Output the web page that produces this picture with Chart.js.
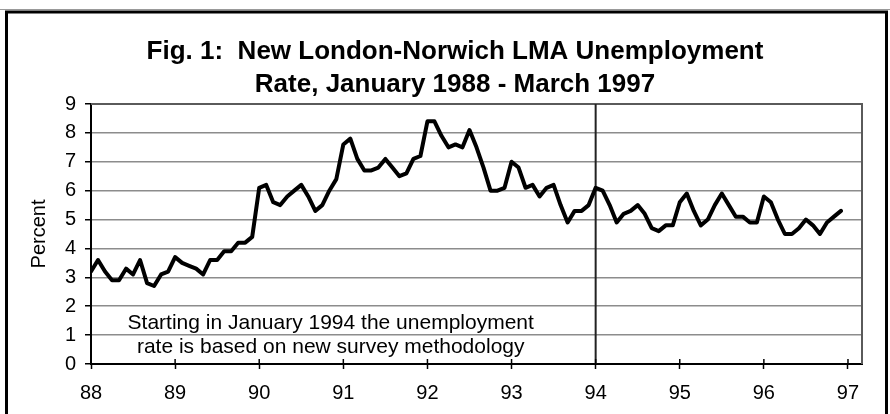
<!DOCTYPE html>
<html>
<head>
<meta charset="utf-8">
<script src="https://cdn.jsdelivr.net/npm/chart.js@4/dist/chart.umd.min.js"></script>
<style>
  html, body { margin: 0; padding: 0; background: #fff; }
  #wrap { width: 890px; height: 414px; }
</style>
</head>
<body>
<div id="wrap"><canvas id="c" width="890" height="414"></canvas></div>
<script>
// ---- data (monthly unemployment rate, percent) ----
const tickLabels = ['88', '89', '90', '91', '92', '93', '94', '95', '96', '97'];
const rate1988 = [3.2, 3.6, 3.2, 2.9, 2.9, 3.3, 3.1, 3.6, 2.8, 2.7, 3.1, 3.2];
const rate1989 = [3.7, 3.5, 3.4, 3.3, 3.1, 3.6, 3.6, 3.9, 3.9, 4.2, 4.2, 4.4];
const rate1990 = [6.1, 6.2, 5.6, 5.5, 5.8, 6.0, 6.2, 5.8, 5.3, 5.5, 6.0, 6.4];
const rate1991 = [7.6, 7.8, 7.1, 6.7, 6.7, 6.8, 7.1, 6.8, 6.5, 6.6, 7.1, 7.2];
const rate1992 = [8.4, 8.4, 7.9, 7.5, 7.6, 7.5, 8.1, 7.5, 6.8, 6.0, 6.0, 6.1];
const rate1993 = [7.0, 6.8, 6.1, 6.2, 5.8, 6.1, 6.2, 5.5, 4.9, 5.3, 5.3, 5.5];
const rate1994 = [6.1, 6.0, 5.5, 4.9, 5.2, 5.3, 5.5, 5.2, 4.7, 4.6, 4.8, 4.8];
const rate1995 = [5.6, 5.9, 5.3, 4.8, 5.0, 5.5, 5.9, 5.5, 5.1, 5.1, 4.9, 4.9];
const rate1996 = [5.8, 5.6, 5.0, 4.5, 4.5, 4.7, 5.0, 4.8, 4.5, 4.9, 5.1, 5.3];
const noteLines = ['Starting in January 1994 the unemployment', 'rate is based on new survey methodology'];
const titleLines = ['Fig. 1:  New London-Norwich LMA Unemployment', 'Rate, January 1988 - March 1997'];

const rates = [].concat(rate1988, rate1989, rate1990, rate1991, rate1992, rate1993, rate1994, rate1995, rate1996);
const points = rates.map((v, i) => ({ x: i, y: v }));   // x = months since Jan 1988
const lastMonth = 110;      // March 1997 (axis end)
const breakMonth = 72;      // January 1994
const FONT = '"Liberation Sans", Arial, Helvetica, sans-serif';

const decor = {
  id: 'decor',
  beforeDatasetsDraw(chart) {
    const { ctx, chartArea: a, scales: { x, y } } = chart;
    ctx.save();
    // plot frame (top & right)
    ctx.strokeStyle = '#5a5a5a';
    ctx.lineWidth = 2;
    ctx.beginPath();
    ctx.moveTo(a.left, a.top);
    ctx.lineTo(a.right, a.top);
    ctx.lineTo(a.right, a.bottom);
    ctx.stroke();
    // methodology break line
    const bx = x.getPixelForValue(breakMonth);
    ctx.strokeStyle = '#222';
    ctx.lineWidth = 2;
    ctx.beginPath();
    ctx.moveTo(bx, a.top);
    ctx.lineTo(bx, a.bottom);
    ctx.stroke();
    // inner part of x tick marks
    ctx.strokeStyle = '#000';
    ctx.lineWidth = 1.5;
    x.ticks.forEach(t => {
      const px = x.getPixelForValue(t.value);
      ctx.beginPath();
      ctx.moveTo(px, a.bottom - 5);
      ctx.lineTo(px, a.bottom);
      ctx.stroke();
    });
    // note text
    ctx.fillStyle = '#000';
    ctx.font = '21px ' + FONT;
    ctx.textAlign = 'center';
    ctx.textBaseline = 'middle';
    const nx = x.getPixelForValue(34.2);
    ctx.fillText(noteLines[0], nx, y.getPixelForValue(1.42));
    ctx.fillText(noteLines[1], nx, y.getPixelForValue(0.59));
    ctx.restore();
  },
  afterDraw(chart) {
    const { ctx } = chart;
    ctx.save();
    ctx.strokeStyle = '#999';
    ctx.lineWidth = 1;
    ctx.beginPath();
    ctx.moveTo(0, 9.5);
    ctx.lineTo(890, 9.5);
    ctx.stroke();
    ctx.strokeStyle = '#000';
    ctx.lineWidth = 3;
    ctx.strokeRect(6.5, 12, 880, 440);
    ctx.restore();
  }
};

new Chart(document.getElementById('c'), {
  type: 'line',
  data: {
    datasets: [{
      data: points,
      borderColor: '#000',
      borderWidth: 4,
      pointRadius: 0,
      tension: 0,
      borderJoinStyle: 'round',
      borderCapStyle: 'round',
      fill: false
    }]
  },
  options: {
    responsive: false,
    animation: false,
    devicePixelRatio: 1,
    layout: { padding: { left: 48, right: 28, top: 20, bottom: 0 } },
    plugins: {
      legend: { display: false },
      tooltip: { enabled: false },
      title: {
        display: true,
        text: titleLines,
        color: '#000',
        font: { family: FONT, size: 26, weight: 'bold', lineHeight: 33 / 26 },
        padding: { top: 15, bottom: 3 }
      }
    },
    scales: {
      x: {
        type: 'linear',
        min: 0,
        max: lastMonth,
        afterBuildTicks: s => { s.ticks = tickLabels.map((_, k) => ({ value: k * 12 })); },
        afterFit: s => { s.height = 50; },
        grid: { drawOnChartArea: false, drawTicks: true, tickLength: 5, tickColor: '#000', tickWidth: 1.5 },
        border: { display: true, color: '#000', width: 2 },
        ticks: {
          color: '#000',
          font: { family: FONT, size: 20 },
          padding: 12,
          maxRotation: 0,
          autoSkip: false,
          callback: v => tickLabels[Math.round(v / 12)]
        }
      },
      y: {
        min: 0,
        max: 9,
        afterFit: s => { s.width = 43; },
        grid: { color: '#8c8c8c', lineWidth: 1.5, drawTicks: true, tickLength: 6, tickColor: '#000', tickWidth: 1.5 },
        border: { display: true, color: '#000', width: 2 },
        ticks: {
          stepSize: 1,
          color: '#000',
          font: { family: FONT, size: 20 },
          padding: 9
        },
        title: {
          display: true,
          text: 'Percent',
          color: '#000',
          font: { family: FONT, size: 20 },
          padding: { top: -21, bottom: 0 }
        }
      }
    }
  },
  plugins: [decor]
});
</script>
</body>
</html>
